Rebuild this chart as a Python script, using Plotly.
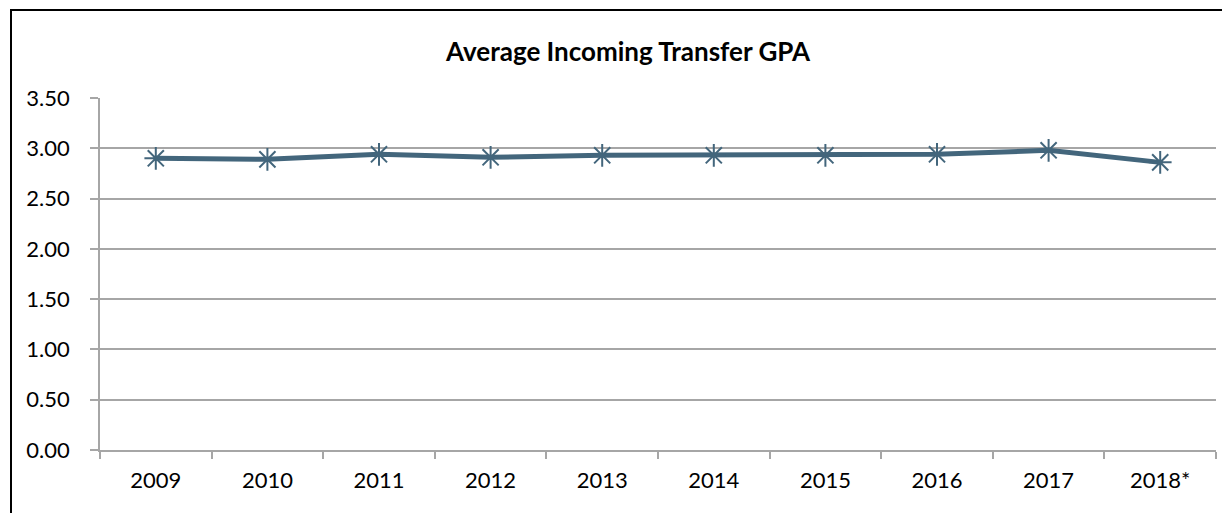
import plotly.graph_objects as go

years = ["2009", "2010", "2011", "2012", "2013", "2014", "2015", "2016", "2017", "2018*"]
gpa = [2.90, 2.89, 2.94, 2.91, 2.93, 2.93, 2.93, 2.94, 2.98, 2.86]
y_ticks = [0, 0.5, 1.0, 1.5, 2.0, 2.5, 3.0, 3.5]
y_tick_labels = ["0.00", "0.50", "1.00", "1.50", "2.00", "2.50", "3.00", "3.50"]

# page body has an 8px margin, so the figure is drawn 8px smaller
OFF = 8
W, H = 1230 - OFF, 513 - OFF
L, R, T, B = 100 - OFF, 1230 - 1216, 98 - OFF, 513 - 450
pw, ph = W - L - R, H - T - B

line_color = "#43667C"
grid_color = "#A6A6A6"
font_family = "Lato, 'Open Sans', sans-serif"

fig = go.Figure()
fig.add_trace(go.Scatter(
    x=years, y=gpa, mode="lines+markers",
    line=dict(color=line_color, width=5),
    marker=dict(symbol="asterisk-open", size=19, color=line_color,
                line=dict(color=line_color, width=2)),
    showlegend=False, hoverinfo="x+y",
))


def px_x(x):
    return (x - OFF - L) / pw


def px_y(y):
    return (H - B - (y - OFF)) / ph


# outer chart border (left and top visible)
fig.add_shape(type="rect", xref="paper", yref="paper",
              x0=px_x(11), x1=px_x(1250), y0=px_y(540), y1=px_y(10),
              line=dict(color="black", width=2), fillcolor="rgba(0,0,0,0)",
              layer="below")

fig.add_annotation(text="<b>Average Incoming Transfer GPA</b>",
                   xref="paper", yref="paper", x=px_x(628), y=px_y(51),
                   showarrow=False, font=dict(family=font_family, size=26, color="black"),
                   xanchor="center", yanchor="middle")

fig.update_layout(
    width=W, height=H,
    margin=dict(l=L, r=R, t=T, b=B),
    paper_bgcolor="white", plot_bgcolor="white",
    font=dict(family=font_family, size=22, color="black"),
    xaxis=dict(type="category", range=[-0.5, 9.5], tickson="boundaries",
               ticks="outside", ticklen=7, tickcolor=grid_color, tickwidth=1.5,
               ticklabelstandoff=10,
               showline=True, linecolor=grid_color, linewidth=1.5,
               showgrid=False, zeroline=False, fixedrange=True),
    yaxis=dict(range=[0, 3.5], tickvals=y_ticks, ticktext=y_tick_labels,
               ticks="outside", ticklen=8, tickcolor=grid_color, tickwidth=1.5,
               ticklabelstandoff=16,
               showline=True, linecolor=grid_color, linewidth=1.5,
               showgrid=True, gridcolor=grid_color, gridwidth=1.5,
               zeroline=False, fixedrange=True),
)

fig.write_html("out.html")
